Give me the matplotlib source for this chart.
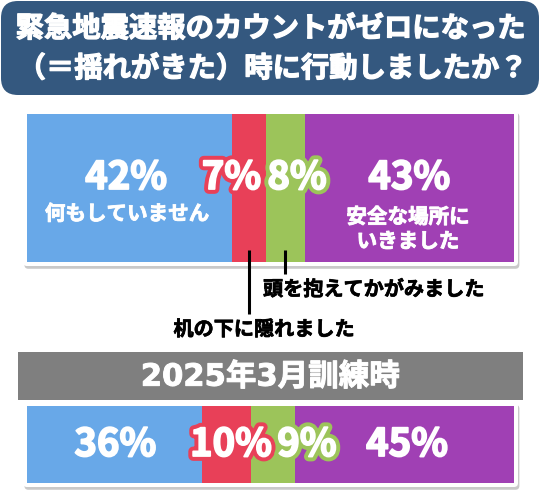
import matplotlib
matplotlib.use("Agg")
import matplotlib.pyplot as plt
import matplotlib.patheffects as pe
from matplotlib.patches import FancyBboxPatch
import numpy as np

plt.rcParams['font.family'] = ['Noto Sans CJK JP', 'DejaVu Sans']

# ---- data ----
title_lines = ["緊急地震速報のカウントがゼロになった", "（＝揺れがきた）時に行動しましたか？"]
categories = ["何もしていません", "机の下に隠れました", "頭を抱えてかがみました", "安全な場所に\nいきました"]
values_now = [42, 7, 8, 43]
values_2025 = [36, 10, 9, 45]
subtitle_2025 = "2025年3月訓練時"

colors = ["#68a8e8", "#e84058", "#9cc45a", "#a040b4"]
title_bg = "#34587f"
band_gray = "#7f7f7f"

W, H = 540, 500
BAR_X0, BAR_W = 27, 487

fig = plt.figure(figsize=(W / 100, H / 100), dpi=100)
bg = fig.add_axes([0, 0, 1, 1])
bg.set_xlim(0, W)
bg.set_ylim(H, 0)
bg.axis('off')


def bold(color, lw=1.1):
    return [pe.Stroke(linewidth=lw, foreground=color), pe.Normal()]


# title box
bg.add_patch(FancyBboxPatch((1, 1), 538, 94, boxstyle="round,pad=0,rounding_size=17",
                            fc=title_bg, ec="none"))
bg.text(W / 2 + 1, 29, title_lines[0], color="white", fontsize=20.4, fontweight="bold",
        ha="center", va="center", path_effects=bold("white", 0.9))
bg.text(W / 2 + 3, 69, title_lines[1], color="white", fontsize=20.4, fontweight="bold",
        ha="center", va="center", path_effects=bold("white", 0.9))

# shadow frames for bars
for (y0, h) in [(110, 156), (402, 85)]:
    bg.add_patch(FancyBboxPatch((23, y0), 495, h, boxstyle="round,pad=0,rounding_size=4",
                                fc="white", ec="none",
                                path_effects=[pe.SimplePatchShadow(offset=(1, -2),
                                                                   shadow_rgbFace="#888888",
                                                                   alpha=0.45),
                                              pe.Normal()]))

# gray band
bg.add_patch(plt.Rectangle((18, 352), 505, 48, fc=band_gray, ec="none"))
bg.text(270, 377, subtitle_2025, color="white", fontsize=22, fontweight="bold",
        family=['DejaVu Sans', 'Noto Sans CJK JP'],
        ha="center", va="center", path_effects=bold("white", 0.7))


def bar_axes(top, bottom):
    ax = fig.add_axes([BAR_X0 / W, (H - bottom) / H, BAR_W / W, (bottom - top) / H])
    ax.set_xlim(0, 100)
    ax.set_ylim(-0.5, 0.5)
    ax.axis('off')
    return ax


def draw_bar(ax, vals):
    lefts = np.concatenate([[0], np.cumsum(vals)[:-1]])
    ax.barh([0] * len(vals), vals, left=lefts, height=1.0, color=colors, linewidth=0)
    return lefts + np.array(vals) / 2


def pct_label(ax, x, y, v, outline=None, dx=0, fs=27.5):
    effects = [pe.Stroke(linewidth=1.3, foreground="white"), pe.Normal()]
    if outline is not None:
        effects = [pe.Stroke(linewidth=7, foreground=outline)] + effects
    ax.annotate(f"{v}%", (x, y), xytext=(dx, 0), textcoords="offset points",
                color="white", fontsize=fs, fontweight="bold", ha="center", va="center",
                path_effects=effects, annotation_clip=False)


# top bar
ax1 = bar_axes(114, 262)
c1 = draw_bar(ax1, values_now)
pct_label(ax1, c1[0], 0.071, values_now[0], dx=-2.2)
pct_label(ax1, c1[1], 0.071, values_now[1], outline=colors[1], dx=-12.3)
pct_label(ax1, c1[2], 0.071, values_now[2], outline=colors[2], dx=8.6)
pct_label(ax1, c1[3], 0.071, values_now[3])
ax1.text(c1[0] - 0.5, -0.173, categories[0], color="white", fontsize=14.8, fontweight="bold",
         ha="center", va="center", path_effects=bold("white", 0.6))
ax1.text(c1[3] - 0.3, -0.277, categories[3], color="white", fontsize=14.8, fontweight="bold",
         ha="center", va="center", linespacing=1.2, path_effects=bold("white", 0.6))

# leader lines
trans = ax1.get_xaxis_transform()
ax1.plot([c1[1], c1[1]], [0.081, -0.348], color="black", lw=2.2, transform=trans,
         clip_on=False, solid_capstyle="butt")
ax1.plot([c1[2], c1[2]], [0.081, -0.081], color="black", lw=2.2, transform=trans,
         clip_on=False, solid_capstyle="butt")
bg.text(263, 289, categories[2], color="black", fontsize=14.5, fontweight="bold",
        ha="left", va="center", path_effects=bold("black", 0.5))
bg.text(264, 329, categories[1], color="black", fontsize=14.5, fontweight="bold",
        ha="center", va="center", path_effects=bold("black", 0.5))

# bottom bar
ax2 = bar_axes(406, 483)
c2 = draw_bar(ax2, values_2025)
pct_label(ax2, c2[0], 0.0, values_2025[0], dx=0.5)
pct_label(ax2, c2[1], 0.0, values_2025[1], outline=colors[1], dx=3.1)
pct_label(ax2, c2[2], 0.0, values_2025[2], outline=colors[2], dx=24.5)
pct_label(ax2, c2[3], 0.0, values_2025[3], dx=1.9)

fig.savefig("out.png", dpi=100)
